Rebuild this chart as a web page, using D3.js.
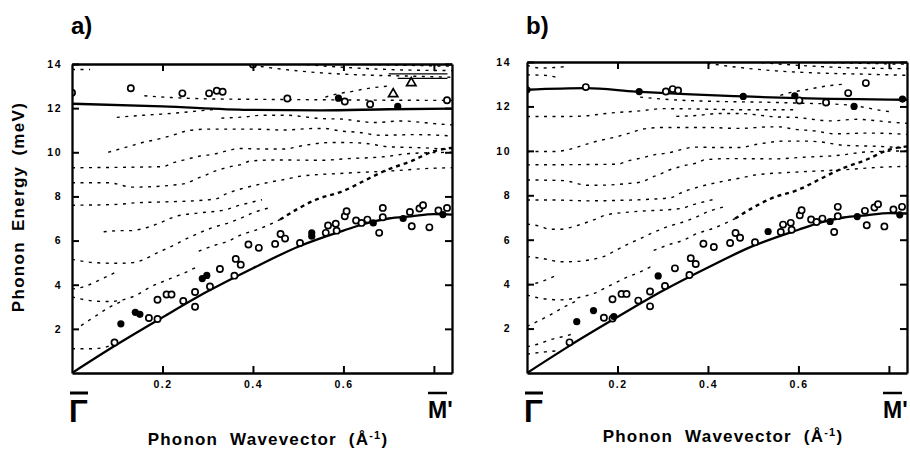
<!DOCTYPE html>
<html>
<head>
<meta charset="utf-8">
<script src="https://cdn.jsdelivr.net/npm/d3@7"></script>
<style>
  body { margin: 0; background: #fff; }
  svg { display: block; font-family: "Liberation Sans", Arial, sans-serif; }
</style>
</head>
<body>
<script>
// axis values
const qMax = 0.84
const eMax = 14
const eTicks = [2, 4, 6, 8, 10, 12, 14]
const qTicks = [0.2, 0.4, 0.6, 0.8]
const qTickLabels = ["0.2", "0.4", "0.6", ""]

// solid model curves [q, E]
const acoustic = [[0,0],[0.1,1.3],[0.2,2.52],[0.3,3.7],[0.4,4.75],[0.5,5.72],[0.6,6.45],[0.65,6.78],[0.7,7.0],[0.75,7.1],[0.8,7.2],[0.84,7.18]]
const flatA = [[0,12.2],[0.2,12.08],[0.39,11.92],[0.55,11.9],[0.7,11.95],[0.84,11.98]]
const flatB = [[0,12.75],[0.13,12.82],[0.24,12.67],[0.35,12.55],[0.48,12.45],[0.6,12.37],[0.84,12.3]]

// measured points, shared by both panels
const lowOpen = [[0.094,1.38],[0.17,2.49],[0.189,2.45],[0.189,3.32],[0.209,3.56],[0.22,3.56],[0.246,3.26],
  [0.272,3.67],[0.272,3.0],[0.305,3.92],[0.327,4.71],[0.359,4.41],[0.362,5.17],[0.373,4.91],[0.39,5.82],
  [0.413,5.67],[0.449,5.85],[0.461,6.3],[0.471,6.09],[0.504,5.89],[0.561,6.35],[0.566,6.68],[0.583,6.76],
  [0.585,6.45],[0.603,7.1],[0.607,7.33],[0.628,6.91],[0.64,6.8],[0.653,6.95],[0.679,6.35],[0.687,7.48],
  [0.687,7.06],[0.747,7.3],[0.751,6.65],[0.768,7.45],[0.776,7.6],[0.79,6.6],[0.81,7.36],[0.829,7.48]]

const filledA = [[0.108,2.23],[0.14,2.75],[0.15,2.66],[0.288,4.28],[0.298,4.42],[0.53,6.35],[0.53,6.2],
  [0.666,6.8],[0.732,7.0],[0.82,7.18],[0.589,12.45],[0.72,12.08]]
const upOpenA = [[0,12.7],[0.13,12.9],[0.244,12.67],[0.303,12.67],[0.32,12.79],[0.333,12.74],[0.476,12.44],
  [0.603,12.3],[0.659,12.18],[0.829,12.36],[0.4,13.98]]
const trianglesA = [[0.71,12.64],[0.75,13.14]]

const filledB = [[0.11,2.31],[0.147,2.81],[0.192,2.54],[0.29,4.37],[0.533,6.37],[0.67,6.82],[0.73,7.04],
  [0.824,7.12],[0,12.75],[0.248,12.67],[0.478,12.45],[0.592,12.48],[0.723,12.0],[0.83,12.33]]
const upOpenB = [[0.13,12.87],[0.307,12.67],[0.322,12.78],[0.334,12.72],[0.602,12.27],[0.661,12.18],
  [0.71,12.6],[0.749,13.05]]

// dashed slab modes, shared
const modeT = [[0.28,5.52],[0.32,5.82],[0.345,5.97],[0.375,6.27],[0.41,6.5],[0.46,6.95]]
const modeTbold = [[0.46,6.95],[0.5,7.45],[0.54,7.86],[0.6,8.25],[0.65,8.75],[0.69,9.15],[0.75,9.6],[0.8,10.05],[0.84,10.2]]
const modeA2 = [[0.33,11.55],[0.38,11.6],[0.42,11.68],[0.47,11.68],[0.55,11.53],[0.6,11.5],[0.63,11.42],[0.67,11.35],[0.73,11.42],[0.76,11.38],[0.8,11.3],[0.84,11.24]]
const modeU2 = [[0.56,12.5],[0.59,12.66],[0.62,12.76],[0.65,12.88],[0.7,13.0]]
const modeTop1 = [[0.38,14.0],[0.45,13.8],[0.55,13.6],[0.65,13.5],[0.75,13.45],[0.84,13.4]]
const modeTop2 = [[0.5,14.0],[0.6,13.85],[0.7,13.75],[0.84,13.7]]
const modeTop3 = [[0.62,14.0],[0.72,13.95],[0.84,13.9]]

// dashed modes, panel a
const a1 = [[0,1.1],[0.04,1.1],[0.07,1.15],[0.1,1.4]]
const a2 = [[0.02,2.15],[0.05,2.55],[0.08,2.95],[0.11,3.25]]
const a3 = [[0,3.45],[0.05,3.26],[0.08,3.24],[0.12,3.36],[0.145,3.55],[0.165,3.8],[0.22,4.3],[0.25,4.55],[0.28,4.85]]
const a4 = [[0,3.8],[0.025,3.9],[0.07,4.3],[0.1,4.6]]
const a5 = [[0,5.15],[0.05,5.0],[0.1,4.97],[0.135,5.0],[0.16,5.15],[0.18,5.36],[0.22,5.74],[0.25,6.05],[0.31,6.58],[0.35,6.83],[0.375,7.03],[0.4,7.26],[0.44,7.5]]
const a6 = [[0.07,6.4],[0.11,6.45],[0.13,6.45],[0.155,6.53],[0.175,6.65],[0.2,6.85],[0.23,7.1],[0.28,7.25],[0.342,7.41],[0.364,7.56],[0.386,7.68],[0.42,7.85]]
const a7 = [[0,7.6],[0.1,7.64],[0.14,7.71],[0.2,7.75],[0.27,7.8],[0.32,7.9],[0.338,8.09],[0.357,8.24],[0.375,8.35],[0.438,8.65],[0.478,8.8],[0.5,8.9],[0.6,9.05],[0.7,9.15],[0.8,9.28],[0.84,9.3]]
const a8 = [[0,8.62],[0.08,8.62],[0.135,8.42],[0.176,8.44],[0.217,8.5],[0.253,8.6],[0.275,8.8],[0.294,8.95],[0.316,9.15],[0.334,9.26],[0.357,9.38],[0.375,9.45],[0.393,9.6],[0.45,9.65],[0.555,9.64],[0.6,9.7],[0.69,9.8],[0.75,9.95],[0.84,10.0]]
const a9 = [[0,9.3],[0.2,9.35],[0.224,9.53],[0.253,9.68],[0.283,9.83],[0.312,9.91],[0.342,10.06],[0.371,10.17],[0.42,10.15],[0.47,10.15],[0.51,10.3],[0.57,10.44],[0.61,10.44],[0.65,10.4],[0.7,10.25],[0.78,10.2],[0.84,10.12]]
const a10 = [[0.08,10.0],[0.13,10.29],[0.15,10.41],[0.195,10.62],[0.235,10.85],[0.253,10.97],[0.3,11.05],[0.4,11.05],[0.467,11.01],[0.537,11.08],[0.557,11.08],[0.592,10.97],[0.635,10.9],[0.68,10.77],[0.76,10.8],[0.84,10.74]]
const a11 = [[0.099,11.58],[0.158,11.68],[0.198,11.73],[0.242,11.8],[0.283,11.88],[0.32,11.95]]
const a12 = [[0.16,12.56],[0.22,12.48],[0.3,12.42],[0.4,12.4],[0.55,12.38],[0.7,12.36],[0.84,12.35]]
const a13 = [[0,13.75],[0.04,13.75]]
const barsA = [[[0.7,13.55],[0.83,13.55]], [[0.72,13.35],[0.83,13.35]]]

// dashed modes, panel b
const b0 = [[0,0.85],[0.04,0.95],[0.07,1.0]]
const b1 = [[0,1.18],[0.03,1.34],[0.05,1.49],[0.08,1.64],[0.1,1.75]]
const b2 = [[0,2.1],[0.05,2.6],[0.08,2.95],[0.11,3.25]]
const b3 = [[0,3.51],[0.03,3.36],[0.05,3.32],[0.07,3.29],[0.09,3.32],[0.124,3.44],[0.15,3.6],[0.17,3.8],[0.22,4.3],[0.25,4.55],[0.28,4.85]]
const b4 = [[0,3.96],[0.03,4.1],[0.06,4.35]]
const b5 = [[0,5.24],[0.03,5.17],[0.05,5.09],[0.07,5.01],[0.09,5.01],[0.124,5.05],[0.146,5.12],[0.169,5.24],[0.198,5.54],[0.22,5.77],[0.25,6.05],[0.31,6.58],[0.35,6.83],[0.375,7.03],[0.4,7.26],[0.44,7.5]]
const b6 = [[0,6.7],[0.032,6.59],[0.05,6.47],[0.07,6.47],[0.09,6.52],[0.103,6.59],[0.147,6.89],[0.176,7.12],[0.23,7.25],[0.342,7.41],[0.364,7.56],[0.386,7.68],[0.42,7.85]]
const b7 = [[0,7.79],[0.05,7.79],[0.14,7.75],[0.2,7.77],[0.27,7.82],[0.32,7.9],[0.338,8.09],[0.357,8.24],[0.375,8.35],[0.438,8.65],[0.478,8.8],[0.5,8.9],[0.6,9.05],[0.7,9.15],[0.8,9.28],[0.84,9.3]]
const b8 = [[0,8.69],[0.08,8.66],[0.135,8.45],[0.176,8.46],[0.217,8.52],[0.253,8.6],[0.275,8.8],[0.294,8.95],[0.316,9.15],[0.334,9.26],[0.357,9.38],[0.375,9.45],[0.393,9.6],[0.45,9.65],[0.555,9.64],[0.6,9.7],[0.69,9.8],[0.75,9.95],[0.84,10.0]]
const b9 = [[0,9.37],[0.2,9.4],[0.224,9.55],[0.253,9.68],[0.283,9.83],[0.312,9.91],[0.342,10.06],[0.371,10.17],[0.42,10.15],[0.47,10.15],[0.51,10.3],[0.57,10.44],[0.61,10.44],[0.65,10.4],[0.7,10.25],[0.78,10.2],[0.84,10.12]]
const b10 = [[0,9.97],[0.06,9.97],[0.1,10.1],[0.13,10.29],[0.15,10.41],[0.195,10.62],[0.235,10.85],[0.253,10.97],[0.3,11.05],[0.4,11.05],[0.467,11.01],[0.537,11.08],[0.557,11.08],[0.592,10.97],[0.635,10.9],[0.68,10.77],[0.76,10.8],[0.84,10.74]]
const b11 = [[0,11.55],[0.095,11.55],[0.132,11.58],[0.161,11.65],[0.183,11.7],[0.25,11.8],[0.3,11.9],[0.5,11.85],[0.6,11.85]]
const b12 = [[0.25,12.42],[0.3,12.33],[0.43,12.22],[0.5,12.2],[0.6,12.15],[0.7,12.08],[0.743,11.97],[0.773,11.85],[0.8,11.77]]
const b13 = [[0,13.85],[0.03,13.73],[0.06,13.75],[0.09,13.8]]
const b14 = [[0,13.42],[0.04,13.4],[0.073,13.27]]

const panels = [
  {
    label: "a)", left: 72, right: 452, top: 64, bottom: 373, labelPad: 10,
    flat: flatA, filled: filledA, open: lowOpen.concat(upOpenA), triangles: trianglesA, bars: barsA,
    modes: [a1, a2, a3, a4, a5, a6, a7, a8, a9, a10, a11, a12, a13, modeT, modeA2, modeU2, modeTop1, modeTop2, modeTop3],
  },
  {
    label: "b)", left: 527, right: 907, top: 62, bottom: 373, labelPad: 16,
    flat: flatB, filled: filledB, open: lowOpen.concat(upOpenB), triangles: [], bars: [],
    modes: [b0, b1, b2, b3, b4, b5, b6, b7, b8, b9, b10, b11, b12, b13, b14, modeT, modeA2, modeU2, modeTop1, modeTop2, modeTop3],
  },
]

const svg = d3.select("body").append("svg")
  .attr("width", 910)
  .attr("height", 450)

panels.forEach((p, i) => drawPanel(p, i))

function drawPanel(p, i) {
  const xScale = d3.scaleLinear().domain([0, qMax]).range([p.left, p.right])
  const yScale = d3.scaleLinear().domain([0, eMax]).range([p.bottom, p.top])

  const line = d3.line()
    .x(d => xScale(d[0]))
    .y(d => yScale(d[1]))
    .curve(d3.curveMonotoneX)

  svg.append("clipPath").attr("id", "clip" + i)
    .append("rect")
      .attr("x", p.left).attr("y", p.top)
      .attr("width", p.right - p.left).attr("height", p.bottom - p.top)

  const g = svg.append("g").attr("clip-path", `url(#clip${i})`)

  // dashed slab modes
  g.selectAll(".mode")
    .data(p.modes)
    .join("path")
      .attr("class", "mode")
      .attr("d", line)
      .attr("fill", "none")
      .attr("stroke", "#000")
      .attr("stroke-width", 1.4)
      .attr("stroke-dasharray", "3,5.5")

  g.append("path")
    .attr("d", line(modeTbold))
    .attr("fill", "none")
    .attr("stroke", "#000")
    .attr("stroke-width", 2.4)
    .attr("stroke-dasharray", "4,4")

  g.selectAll(".bar")
    .data(p.bars)
    .join("path")
      .attr("class", "bar")
      .attr("d", d3.line().x(d => xScale(d[0])).y(d => yScale(d[1])))
      .attr("stroke", "#000")
      .attr("stroke-width", 1.2)

  // solid curves
  ;[acoustic, p.flat].forEach(c => {
    g.append("path")
      .attr("d", line(c))
      .attr("fill", "none")
      .attr("stroke", "#000")
      .attr("stroke-width", 2.3)
  })

  // points
  g.selectAll(".open")
    .data(p.open)
    .join("circle")
      .attr("class", "open")
      .attr("cx", d => xScale(d[0]))
      .attr("cy", d => yScale(d[1]))
      .attr("r", 3.1)
      .attr("fill", "#fff")
      .attr("stroke", "#000")
      .attr("stroke-width", 1.7)

  g.selectAll(".filled")
    .data(p.filled)
    .join("circle")
      .attr("class", "filled")
      .attr("cx", d => xScale(d[0]))
      .attr("cy", d => yScale(d[1]))
      .attr("r", 3.6)
      .attr("fill", "#000")

  g.selectAll(".tri")
    .data(p.triangles)
    .join("path")
      .attr("class", "tri")
      .attr("transform", d => `translate(${xScale(d[0])},${yScale(d[1])})`)
      .attr("d", d3.symbol(d3.symbolTriangle, 38))
      .attr("fill", "#fff")
      .attr("stroke", "#000")
      .attr("stroke-width", 1.7)

  // frame and axes
  const leftAxis = svg.append("g")
    .attr("transform", `translate(${p.left},0)`)
    .call(d3.axisLeft(yScale).tickValues(eTicks).tickSize(-7).tickSizeOuter(0).tickPadding(p.labelPad))
  const rightAxis = svg.append("g")
    .attr("transform", `translate(${p.right},0)`)
    .call(d3.axisRight(yScale).tickValues(eTicks).tickSize(-7).tickSizeOuter(0).tickFormat(""))
  const topAxis = svg.append("g")
    .attr("transform", `translate(0,${p.top})`)
    .call(d3.axisTop(xScale).tickValues(qTicks).tickSize(-7).tickSizeOuter(0).tickFormat(""))
  const bottomAxis = svg.append("g")
    .attr("transform", `translate(0,${p.bottom})`)
    .call(d3.axisBottom(xScale).tickValues(qTicks).tickSize(-7).tickSizeOuter(0)
      .tickFormat((d, k) => qTickLabels[k]).tickPadding(8))

  ;[leftAxis, rightAxis, topAxis, bottomAxis].forEach(ax => {
    ax.select(".domain").attr("stroke", "#000").attr("stroke-width", 2.3)
    ax.selectAll(".tick line").attr("stroke", "#000").attr("stroke-width", 2)
    ax.selectAll(".tick text")
      .attr("fill", "#000")
      .style("font-size", "10.5px")
      .style("font-weight", "bold")
      .style("letter-spacing", "1.5px")
  })

  // panel letter
  svg.append("text")
    .attr("x", p.left - 1)
    .attr("y", 34)
    .style("font-size", "24px")
    .style("font-weight", "bold")
    .text(p.label)

  // symmetry points
  svg.append("text")
    .attr("x", p.left - 3)
    .attr("y", 422)
    .style("font-size", "31px")
    .style("font-weight", "bold")
    .text("Γ")
  svg.append("line")
    .attr("x1", p.left - 2).attr("x2", p.left + 16)
    .attr("y1", 393).attr("y2", 393)
    .attr("stroke", "#000").attr("stroke-width", 3)

  svg.append("text")
    .attr("x", p.right - 24)
    .attr("y", 418)
    .style("font-size", "23px")
    .style("font-weight", "bold")
    .text("M'")
  svg.append("line")
    .attr("x1", p.right - 24).attr("x2", p.right - 5)
    .attr("y1", 393).attr("y2", 393)
    .attr("stroke", "#000").attr("stroke-width", 2.5)

  // x label
  const xLabel = svg.append("text")
    .attr("x", (p.left + p.right) / 2 + 6)
    .attr("y", 445 - i * 3)
    .attr("text-anchor", "middle")
    .style("font-size", "17px")
    .style("font-weight", "bold")
    .style("letter-spacing", "1.2px")
    .style("word-spacing", "6px")
  xLabel.append("tspan").text("Phonon Wavevector (Å")
  xLabel.append("tspan").attr("dy", -6).style("font-size", "11px").text("-1")
  xLabel.append("tspan").attr("dy", 6).text(")")
}

// y label on the left
svg.append("text")
  .attr("transform", "translate(24,207) rotate(-90)")
  .attr("text-anchor", "middle")
  .style("font-size", "17px")
  .style("font-weight", "bold")
  .style("letter-spacing", "1.3px")
  .style("word-spacing", "4px")
  .text("Phonon Energy (meV)")
</script>
</body>
</html>
